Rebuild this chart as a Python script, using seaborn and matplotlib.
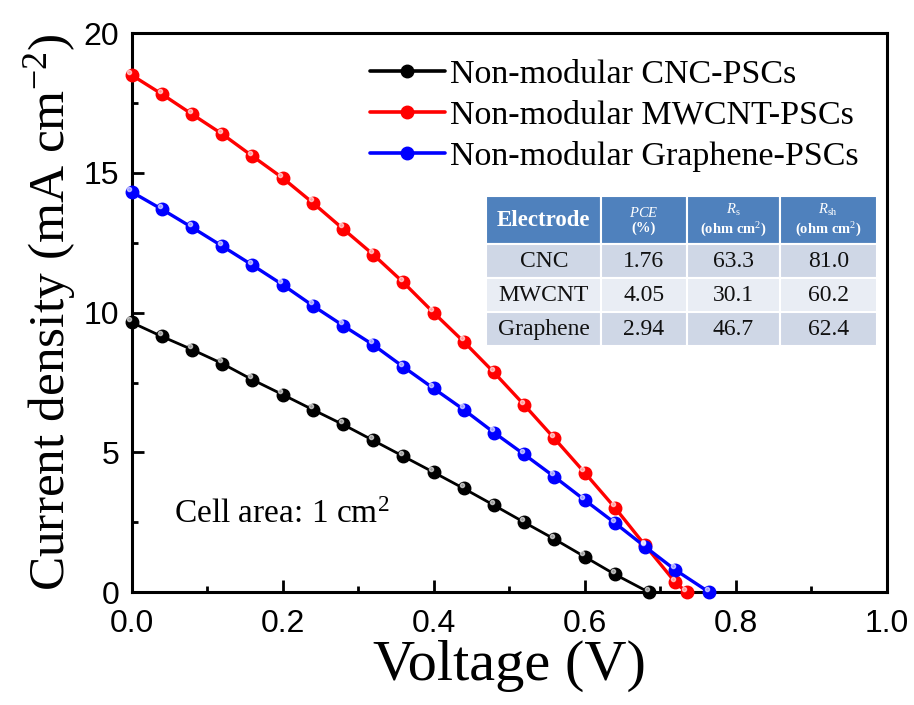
import numpy as np
import pandas as pd
import matplotlib
matplotlib.use("Agg")
import matplotlib.pyplot as plt
import seaborn as sns
from matplotlib.ticker import MultipleLocator

# ---- data ----
v_cnc = [0.0, 0.04, 0.08, 0.12, 0.16, 0.20, 0.24, 0.28, 0.32, 0.36, 0.40, 0.44, 0.48,
         0.52, 0.56, 0.60, 0.64, 0.685]
j_cnc = [9.65, 9.15, 8.68, 8.18, 7.6, 7.07, 6.53, 6.0, 5.43, 4.86, 4.29, 3.71, 3.11,
         2.5, 1.9, 1.27, 0.64, 0.0]
v_mw = [0.0, 0.04, 0.08, 0.12, 0.16, 0.20, 0.24, 0.28, 0.32, 0.36, 0.40, 0.44, 0.48,
        0.52, 0.56, 0.60, 0.64, 0.68, 0.72, 0.735]
j_mw = [18.5, 17.82, 17.1, 16.39, 15.6, 14.82, 13.93, 13.0, 12.08, 11.08, 10.0, 8.96, 7.86,
        6.7, 5.5, 4.28, 3.03, 1.68, 0.36, 0.0]
v_gr = [0.0, 0.04, 0.08, 0.12, 0.16, 0.20, 0.24, 0.28, 0.32, 0.36, 0.40, 0.44, 0.48,
        0.52, 0.56, 0.60, 0.64, 0.68, 0.72, 0.765]
j_gr = [14.32, 13.7, 13.05, 12.38, 11.7, 11.0, 10.25, 9.54, 8.85, 8.06, 7.29, 6.53, 5.71,
        4.93, 4.13, 3.3, 2.48, 1.63, 0.8, 0.0]
series_names = ["Non-modular CNC-PSCs", "Non-modular MWCNT-PSCs", "Non-modular Graphene-PSCs"]
series_colors = ["#000000", "#ff0000", "#0000ff"]

table_header = ["Electrode", "$\\mathit{PCE}$\n(%)", "$\\mathit{R}_{\\rm s}$\n(ohm cm$^{2}$)",
                "$\\mathit{R}_{\\rm sh}$\n(ohm cm$^{2}$)"]
electrodes = ["CNC", "MWCNT", "Graphene"]
pce = ["1.76", "4.05", "2.94"]
rs = ["63.3", "30.1", "46.7"]
rsh = ["81.0", "60.2", "62.4"]

# ---- style ----
sns.set_theme(style="ticks")
plt.rcParams["font.family"] = ["Liberation Serif", "DejaVu Serif"]
plt.rcParams["mathtext.fontset"] = "custom"
plt.rcParams["mathtext.rm"] = "Liberation Serif"
plt.rcParams["mathtext.it"] = "Liberation Serif:italic"
plt.rcParams["mathtext.bf"] = "Liberation Serif:bold"
for key in ["text.color", "axes.labelcolor", "xtick.color", "ytick.color", "axes.edgecolor"]:
    plt.rcParams[key] = "black"

fig = plt.figure(figsize=(9.14, 7.05), dpi=100)
ax = fig.add_axes([0.144, 0.160, 0.826, 0.793])

df = pd.concat([
    pd.DataFrame({"V": v_cnc, "J": j_cnc, "s": series_names[0]}),
    pd.DataFrame({"V": v_mw, "J": j_mw, "s": series_names[1]}),
    pd.DataFrame({"V": v_gr, "J": j_gr, "s": series_names[2]}),
])

lws = [2.0, 2.4, 2.4]
for name, col, lw in zip(series_names, series_colors, lws):
    sub = df[df["s"] == name]
    sns.lineplot(data=sub, x="V", y="J", ax=ax, color=col, lw=lw, marker="o",
                 markersize=9, markeredgecolor=col, markeredgewidth=1.0,
                 sort=False, estimator=None, label=name, clip_on=False, zorder=3)
    # highlight to mimic sphere markers
    ax.plot(sub["V"] - 0.003, sub["J"] + 0.12, ls="none", marker="o", ms=3,
            color="white", alpha=0.6, zorder=4, clip_on=False)

ax.set_xlim(0, 1.0)
ax.set_ylim(0, 20)
ax.xaxis.set_major_locator(MultipleLocator(0.2))
ax.xaxis.set_minor_locator(MultipleLocator(0.1))
ax.yaxis.set_major_locator(MultipleLocator(5))
ax.yaxis.set_minor_locator(MultipleLocator(2.5))
ax.set_xticklabels([f"{t:.1f}" for t in ax.get_xticks()])
ax.tick_params(which="major", direction="in", length=8.5, width=2, labelsize=23,
               top=False, right=False, colors="black")
ax.tick_params(axis="x", which="major", pad=12)
ax.tick_params(axis="y", which="major", pad=9)
ax.tick_params(which="minor", direction="in", length=4.5, width=2, top=False, right=False,
               colors="black")
for lab in ax.get_xticklabels() + ax.get_yticklabels():
    lab.set_family(["Liberation Sans", "DejaVu Sans"])
for sp in ax.spines.values():
    sp.set_linewidth(2.2)
    sp.set_visible(True)
    sp.set_color("black")

ax.set_xlabel("Voltage (V)", fontsize=42, labelpad=1, color="black")
ax.set_ylabel("Current density (mA cm$^{-2}$)", fontsize=37, labelpad=4, color="black")

leg = ax.legend(loc="upper right", bbox_to_anchor=(0.99, 0.99), frameon=False,
                fontsize=24.5, handlelength=2.2, handletextpad=0.15, labelspacing=0.3,
                borderaxespad=0.2, labelcolor="black")
for h in leg.legend_handles:
    h.set_markersize(9)
    h.set_linewidth(2.6)

ax.text(0.056, 0.138, "Cell area: 1 cm$^{2}$", transform=ax.transAxes, fontsize=24,
        ha="left", va="center", color="black")

# ---- table ----
cell_text = [[e, p, r1, r2] for e, p, r1, r2 in zip(electrodes, pce, rs, rsh)]
tab = ax.table(cellText=cell_text, colLabels=table_header,
               colWidths=[0.29, 0.215, 0.235, 0.245],
               bbox=[0.47, 0.44, 0.517, 0.268], cellLoc="center")
tab.auto_set_font_size(False)
row_colors = ["#cfd7e6", "#e9edf4", "#cfd7e6"]
for (r, c), cell in tab.get_celld().items():
    cell.set_edgecolor("white")
    cell.set_linewidth(1.5)
    if r == 0:
        cell.set_facecolor("#4f81bd")
        cell.get_text().set_color("white")
        cell.get_text().set_fontweight("bold")
        cell.get_text().set_fontsize(16.5 if c == 0 else 10.5)
    else:
        cell.set_facecolor(row_colors[r - 1])
        cell.get_text().set_fontsize(17)
        cell.get_text().set_color("#111111")
cells = tab.get_celld()
for (r, c), cell in cells.items():
    cell.set_height(0.32 if r == 0 else 0.2267)
tab.set_zorder(5)

fig.savefig("out.png", dpi=100)
